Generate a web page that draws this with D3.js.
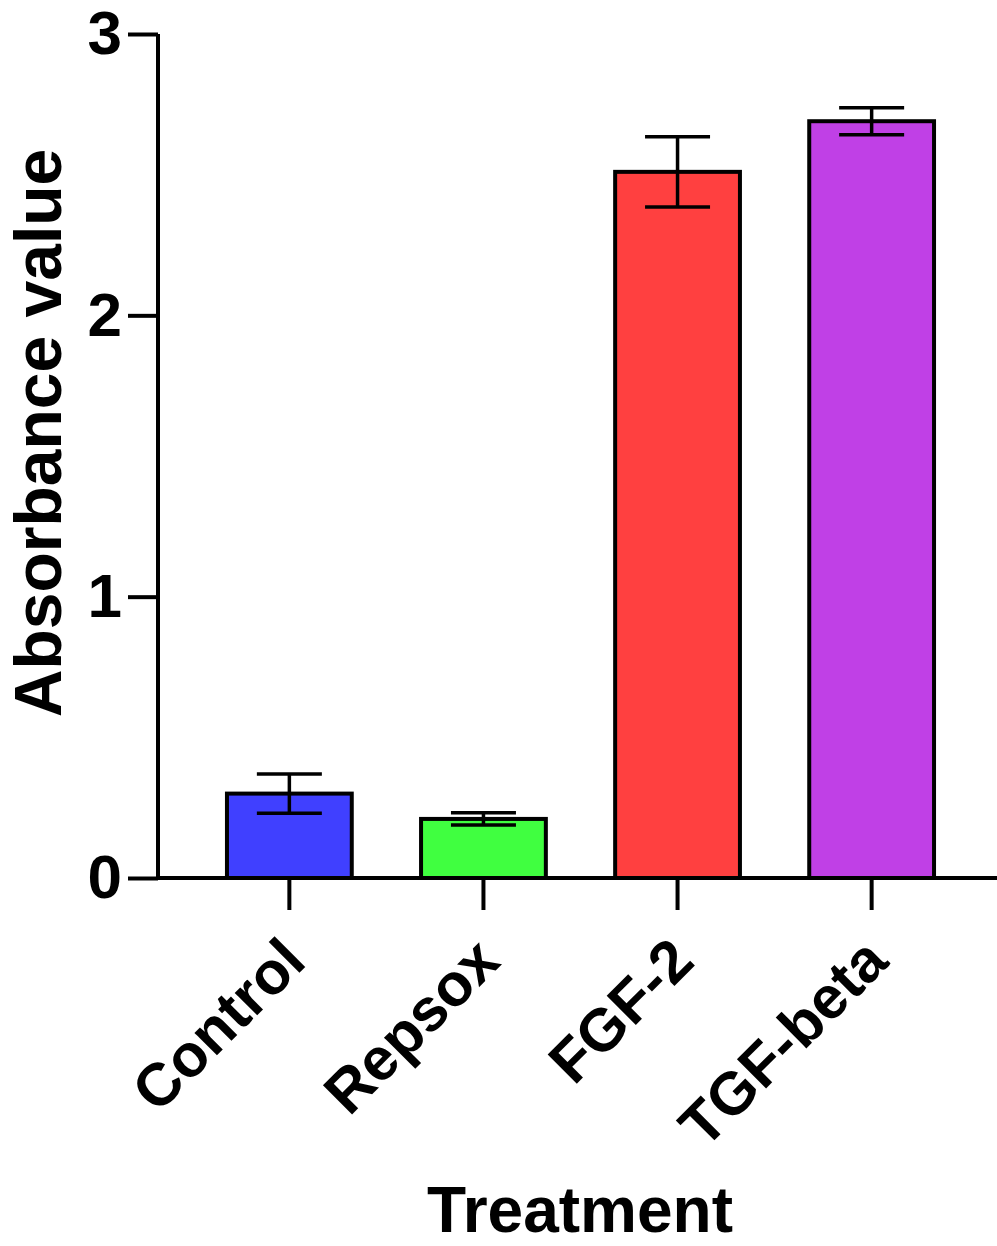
<!DOCTYPE html>
<html>
<head>
<meta charset="utf-8">
<script src="https://cdn.jsdelivr.net/npm/d3@7"></script>
<style>
  html, body { margin: 0; padding: 0; background: #fff; }
  svg { display: block; }
  text { font-family: "Liberation Sans", Arial, sans-serif; font-weight: bold; fill: #000; }
</style>
</head>
<body>
<svg id="chart" width="997" height="1246"></svg>
<script>
const categories = ["Control", "Repsox", "FGF-2", "TGF-beta"];
const means = [0.30, 0.21, 2.51, 2.69];
const errors = [0.07, 0.022, 0.125, 0.048];
const colors = ["#4040FF", "#40FF40", "#FF4040", "#C040E6"];
const yTicks = [0, 1, 2, 3];
const yTitle = "Absorbance value";
const xTitle = "Treatment";

const svg = d3.select("#chart");

const x = d3.scaleBand()
  .domain(categories)
  .range([160, 1001])
  .paddingInner(0.357)
  .paddingOuter(0.345);

const y = d3.scaleLinear().domain([0, 3]).range([878, 34]);

const data = categories.map((c, i) => ({ c, m: means[i], e: errors[i], col: colors[i] }));

// bars
svg.append("g").selectAll("rect")
  .data(data).join("rect")
  .attr("x", d => x(d.c))
  .attr("y", d => y(d.m))
  .attr("width", x.bandwidth())
  .attr("height", d => y(0) - y(d.m))
  .attr("fill", d => d.col)
  .attr("stroke", "#000")
  .attr("stroke-width", 4);

// error bars
const capW = 65;
const eg = svg.append("g").attr("stroke", "#000").attr("stroke-width", 3.5);
data.forEach(d => {
  const cx = x(d.c) + x.bandwidth() / 2;
  eg.append("line").attr("x1", cx).attr("x2", cx).attr("y1", y(d.m + d.e)).attr("y2", y(d.m - d.e));
  eg.append("line").attr("x1", cx - capW / 2).attr("x2", cx + capW / 2).attr("y1", y(d.m + d.e)).attr("y2", y(d.m + d.e));
  eg.append("line").attr("x1", cx - capW / 2).attr("x2", cx + capW / 2).attr("y1", y(d.m - d.e)).attr("y2", y(d.m - d.e));
});

// y axis
const yAxis = d3.axisLeft(y).tickValues(yTicks).tickFormat(d3.format("d")).tickSize(30).tickPadding(6);
const gy = svg.append("g").attr("transform", "translate(158,0)").call(yAxis);
gy.select(".domain").attr("stroke", "#000").attr("stroke-width", 4)
  .attr("d", `M0,${y(3)}V${y(0) + 2}`);
gy.selectAll(".tick line").attr("stroke", "#000").attr("stroke-width", 4);
gy.selectAll(".tick text").style("font-size", "62px").style("font-family", "Liberation Sans, Arial, sans-serif")
  .style("font-weight", "bold").attr("fill", "#000");

// x axis
const xAxis = d3.axisBottom(x).tickSize(32).tickFormat("");
const gx = svg.append("g").attr("transform", `translate(0,${y(0)})`).call(xAxis);
gx.select(".domain").attr("stroke", "#000").attr("stroke-width", 4).attr("d", "M156,0H997");
gx.selectAll(".tick line").attr("stroke", "#000").attr("stroke-width", 4);

// category labels
svg.append("g").selectAll("text")
  .data(categories).join("text")
  .attr("transform", d => `translate(${x(d) + x.bandwidth() / 2 + 19},${964}) rotate(-45)`)
  .attr("text-anchor", "end")
  .style("font-size", "60px")
  .text(d => d);

// axis titles
svg.append("text")
  .attr("transform", "translate(61,433) rotate(-90)")
  .attr("text-anchor", "middle")
  .style("font-size", "66px")
  .text(yTitle);

svg.append("text")
  .attr("x", 580).attr("y", 1232)
  .attr("text-anchor", "middle")
  .style("font-size", "64px")
  .text(xTitle);
</script>
</body>
</html>
